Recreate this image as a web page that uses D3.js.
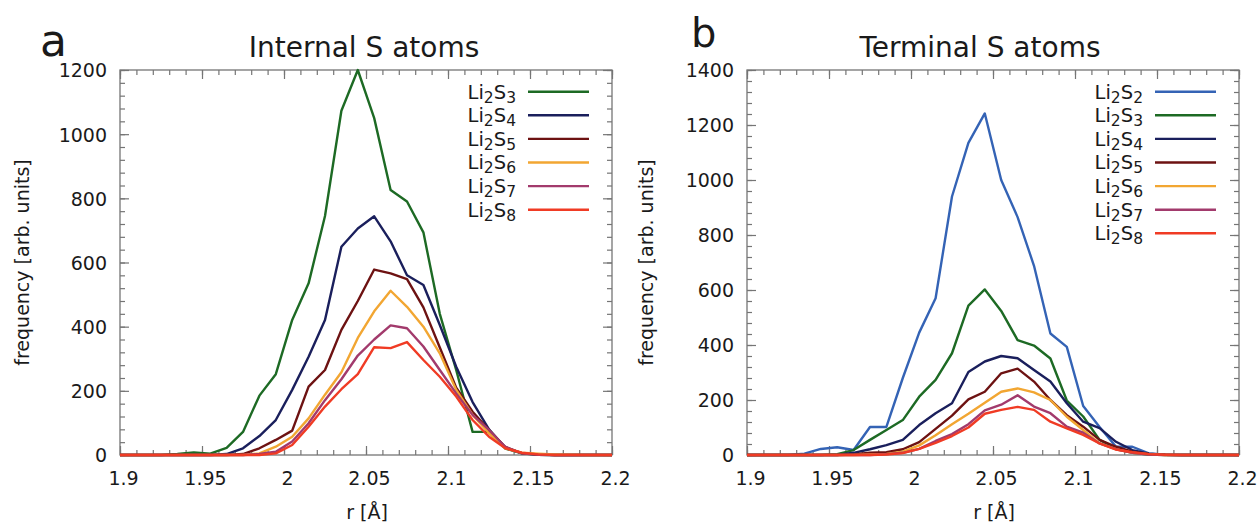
<!DOCTYPE html>
<html><head><meta charset="utf-8">
<script src="https://cdn.jsdelivr.net/npm/d3@7"></script>
<style>
body{margin:0;background:#fff}
svg{display:block}
text{font-family:"DejaVu Sans",sans-serif;fill:#1a1a1a}
</style>
</head><body>
<svg id="chart" width="1260" height="525"></svg>
<script>
// ---------------- data ----------------
const rValues = [1.895,1.905,1.915,1.925,1.935,1.945,1.955,1.965,1.975,1.985,1.995,2.005,2.015,2.025,2.035,2.045,2.055,2.065,2.075,2.085,2.095,2.105,2.115,2.125,2.135,2.145,2.155,2.165,2.175,2.185,2.195,2.205];

const xTickValues = [1.9, 1.95, 2, 2.05, 2.1, 2.15, 2.2];
const xTickLabels = ["1.9", "1.95", "2", "2.05", "2.1", "2.15", "2.2"];
const yTickValuesA = [0, 200, 400, 600, 800, 1000, 1200];
const yTickValuesB = [0, 200, 400, 600, 800, 1000, 1200, 1400];

// Panel a: internal S atoms
const internalNames = ["Li2S3", "Li2S4", "Li2S5", "Li2S6", "Li2S7", "Li2S8"];
const internalLi2S3 = [0,0,0,0,3,8,4,22,72,185,252,421,535,745,1073,1200,1050,826,790,694,440,265,72,72,20,5,1,0,0,0,0,0];
const internalLi2S4 = [0,0,0,0,0,0,0,3,21,59,109,203,306,421,649,706,744,666,560,530,405,275,165,80,22,6,1,0,0,0,0,0];
const internalLi2S5 = [0,0,0,0,0,0,0,0,3,21,47,76,213,265,390,480,578,566,548,460,335,210,135,78,25,6,2,0,0,0,0,0];
const internalLi2S6 = [0,0,0,0,0,0,0,0,0,5,26,57,114,188,258,365,448,512,462,400,317,203,125,68,21,7,4,2,1,0,0,0];
const internalLi2S7 = [0,0,0,0,0,0,0,0,0,3,10,42,99,171,236,310,360,404,395,338,265,192,125,78,25,5,1,0,0,0,0,0];
const internalLi2S8 = [0,0,0,0,0,0,0,0,0,0,5,31,88,151,205,252,336,333,352,296,244,182,109,57,21,7,2,0,0,0,0,0];

// Panel b: terminal S atoms
const terminalNames = ["Li2S2", "Li2S3", "Li2S4", "Li2S5", "Li2S6", "Li2S7", "Li2S8"];
const terminalLi2S2 = [0,0,0,0,5,22,28,18,102,102,280,445,570,940,1135,1242,1000,865,688,442,393,178,102,30,30,6,1,0,0,0,0,0];
const terminalLi2S3 = [0,0,0,0,0,0,3,18,55,91,127,212,273,370,543,602,524,418,398,351,198,140,55,24,8,2,0,0,0,0,0,0];
const terminalLi2S4 = [0,0,0,0,0,0,0,8,21,36,55,109,152,188,302,340,360,352,309,267,188,121,98,48,18,5,1,0,0,0,0,0];
const terminalLi2S5 = [0,0,0,0,0,0,0,2,8,10,21,47,95,143,202,230,297,314,267,200,145,103,55,30,12,4,1,0,0,0,0,0];
const terminalLi2S6 = [0,0,0,0,0,0,0,0,2,4,12,35,72,112,150,190,230,242,228,200,139,91,42,21,8,3,0,0,0,0,0,0];
const terminalLi2S7 = [0,0,0,0,0,0,0,0,0,3,8,22,51,76,112,162,183,217,176,152,103,81,42,21,8,2,0,0,0,0,0,0];
const terminalLi2S8 = [0,0,0,0,0,0,0,0,0,2,7,22,44,69,100,150,164,175,164,121,97,73,42,20,10,3,1,0,0,0,0,0];

// ---------------- styles ----------------
const seriesColor = {
  "Li2S2": "#3463b5",
  "Li2S3": "#1d6a24",
  "Li2S4": "#1a1f5c",
  "Li2S5": "#6d1212",
  "Li2S6": "#f2a632",
  "Li2S7": "#a23a6c",
  "Li2S8": "#f03b24"
};

const svg = d3.select("#chart");
svg.append("rect").attr("width", 1260).attr("height", 525).attr("fill", "#fff");

function drawPanel(cfg) {
  const x = d3.scaleLinear().domain([1.9, 2.2]).range([cfg.left, cfg.right]);
  const y = d3.scaleLinear().domain([0, cfg.ymax]).range([cfg.bottom, cfg.top]);
  const g = svg.append("g");

  const clipId = "clip-" + cfg.id;
  svg.append("clipPath").attr("id", clipId).append("rect")
    .attr("x", cfg.left).attr("y", cfg.top - 3)
    .attr("width", cfg.right - cfg.left).attr("height", cfg.bottom - cfg.top + 6);

  const tickColor = "#757575";
  const minorX = d3.range(0, 31).map(i => 1.9 + i * 0.01);
  const minorY = d3.range(0, cfg.ymax + 1, 40);

  function styleAxis(sel) {
    sel.select(".domain").remove();
    sel.selectAll(".tick line").attr("stroke", tickColor).attr("stroke-width", 1.2);
  }

  // minor ticks (all four sides)
  g.append("g").attr("transform", `translate(0,${cfg.bottom})`)
    .call(d3.axisBottom(x).tickValues(minorX).tickSize(-5).tickFormat(""))
    .call(styleAxis);
  g.append("g").attr("transform", `translate(0,${cfg.top})`)
    .call(d3.axisTop(x).tickValues(minorX).tickSize(-5).tickFormat(""))
    .call(styleAxis);
  g.append("g").attr("transform", `translate(${cfg.left},0)`)
    .call(d3.axisLeft(y).tickValues(minorY).tickSize(-5).tickFormat(""))
    .call(styleAxis);
  g.append("g").attr("transform", `translate(${cfg.right},0)`)
    .call(d3.axisRight(y).tickValues(minorY).tickSize(-5).tickFormat(""))
    .call(styleAxis);

  // major ticks with labels
  const xb = g.append("g").attr("transform", `translate(0,${cfg.bottom})`)
    .call(d3.axisBottom(x).tickValues(xTickValues).tickSize(-9)
      .tickFormat((d, i) => xTickLabels[i]))
    .call(styleAxis);
  xb.selectAll(".tick text").attr("y", 30).attr("dy", 0).attr("x", 3)
    .attr("font-size", 19).attr("font-family", "DejaVu Sans").attr("fill", "#1a1a1a");
  g.append("g").attr("transform", `translate(0,${cfg.top})`)
    .call(d3.axisTop(x).tickValues(xTickValues).tickSize(-9).tickFormat(""))
    .call(styleAxis);
  const yl = g.append("g").attr("transform", `translate(${cfg.left},0)`)
    .call(d3.axisLeft(y).tickValues(cfg.yTicks).tickSize(-9).tickPadding(13)
      .tickFormat(d3.format("d")))
    .call(styleAxis);
  yl.selectAll(".tick text").attr("font-size", 19).attr("font-family", "DejaVu Sans")
    .attr("fill", "#1a1a1a").attr("dy", "0.36em");
  g.append("g").attr("transform", `translate(${cfg.right},0)`)
    .call(d3.axisRight(y).tickValues(cfg.yTicks).tickSize(-9).tickFormat(""))
    .call(styleAxis);

  // frame
  g.append("rect").attr("x", cfg.left).attr("y", cfg.top)
    .attr("width", cfg.right - cfg.left).attr("height", cfg.bottom - cfg.top)
    .attr("fill", "none").attr("stroke", tickColor).attr("stroke-width", 1.3);

  // lines
  const line = d3.line().x(d => x(d[0])).y(d => y(d[1]));
  const lg = g.append("g").attr("clip-path", `url(#${clipId})`);
  cfg.names.forEach((name, i) => {
    const pts = rValues.map((r, k) => [r, cfg.values[i][k]]);
    lg.append("path").datum(pts).attr("d", line)
      .attr("fill", "none").attr("stroke", seriesColor[name])
      .attr("stroke-width", 2.4).attr("stroke-linejoin", "round");
  });

  // legend
  cfg.names.forEach((name, i) => {
    const ly = cfg.top + 21.7 + i * 23.6;
    g.append("line").attr("x1", cfg.right - 84).attr("x2", cfg.right - 23)
      .attr("y1", ly).attr("y2", ly)
      .attr("stroke", seriesColor[name]).attr("stroke-width", 2.4);
    const t = g.append("text").attr("x", cfg.right - 96).attr("y", ly + 6.8)
      .attr("text-anchor", "end").attr("font-size", 19.5);
    const m = name.match(/^(Li)(\d)(S)(\d)$/);
    t.append("tspan").text(m[1]);
    t.append("tspan").attr("font-size", 15.5).attr("dy", 4).text(m[2]);
    t.append("tspan").attr("dy", -4).text(m[3]);
    t.append("tspan").attr("font-size", 15.5).attr("dy", 4).text(m[4]);
  });

  // titles / labels
  g.append("text").attr("x", cfg.titleX).attr("y", 57).attr("text-anchor", "middle")
    .attr("font-size", 28).text(cfg.title);
  g.append("text").attr("x", cfg.panelX).attr("y", cfg.panelY)
    .attr("font-size", cfg.panelSize).text(cfg.panelLabel);
  g.append("text").attr("x", (cfg.left + cfg.right) / 2 + 1).attr("y", 519)
    .attr("text-anchor", "middle").attr("font-size", 19).text("r [Å]");
  g.append("text").attr("transform", `translate(${cfg.yLabelX},${(cfg.top + cfg.bottom) / 2}) rotate(-90)`)
    .attr("text-anchor", "middle").attr("font-size", 19).text("frequency [arb. units]");
}

drawPanel({
  id: "a", left: 120, right: 612, top: 70, bottom: 455, ymax: 1200,
  yTicks: yTickValuesA, names: internalNames,
  values: [internalLi2S3, internalLi2S4, internalLi2S5, internalLi2S6, internalLi2S7, internalLi2S8],
  title: "Internal S atoms", titleX: 364,
  panelLabel: "a", panelX: 40, panelY: 56, panelSize: 44,
  yLabelX: 29
});

drawPanel({
  id: "b", left: 747, right: 1239, top: 70, bottom: 455, ymax: 1400,
  yTicks: yTickValuesB, names: terminalNames,
  values: [terminalLi2S2, terminalLi2S3, terminalLi2S4, terminalLi2S5, terminalLi2S6, terminalLi2S7, terminalLi2S8],
  title: "Terminal S atoms", titleX: 980,
  panelLabel: "b", panelX: 691, panelY: 47, panelSize: 40,
  yLabelX: 653
});
</script>
</body></html>
